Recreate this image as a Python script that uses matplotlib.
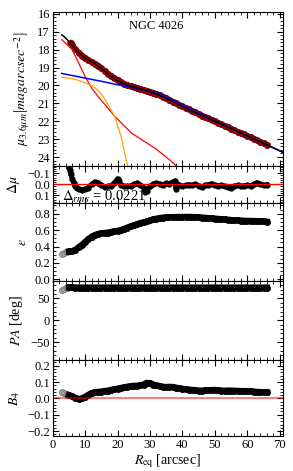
import numpy as np
import matplotlib
matplotlib.use('Agg')
import matplotlib.pyplot as plt
from matplotlib.ticker import MultipleLocator

plt.rcParams['font.family'] = 'Liberation Serif'
plt.rcParams['mathtext.fontset'] = 'stix'
plt.rcParams['font.size'] = 9

# surface brightness profile (data)
r_data = [5.5, 6, 7, 8, 9, 10, 11, 12, 13, 14, 15, 16, 17, 18, 19, 20, 21, 22, 23, 24,
          25, 26, 27, 28, 29, 30, 31, 32, 33, 34, 35, 36, 37, 38, 39, 40, 41, 42, 43, 44,
          45, 46, 47, 48, 49, 50, 51, 52, 53, 54, 55, 56, 57, 58, 59, 60, 61, 62, 63, 64,
          65, 66]
mu_data = [17.64, 17.75, 17.97, 18.17, 18.33, 18.47, 18.58, 18.68, 18.78, 18.9, 19.04, 19.19,
           19.34, 19.48, 19.6, 19.71, 19.82, 19.91, 19.98, 20.03, 20.08, 20.13, 20.18, 20.24,
           20.31, 20.35, 20.41, 20.48, 20.55, 20.63, 20.72, 20.8, 20.9, 20.99, 21.08, 21.17,
           21.26, 21.34, 21.43, 21.51, 21.6, 21.68, 21.76, 21.84, 21.92, 22.01, 22.09, 22.17,
           22.25, 22.33, 22.41, 22.5, 22.58, 22.66, 22.74, 22.82, 22.9, 22.98, 23.07, 23.15,
           23.23, 23.31]

# model components
r_tot = [2.8, 3.5, 4.5, 5.5, 7, 9, 11, 13, 15, 17, 19, 21, 23, 25, 27, 29, 31, 33, 35, 38,
         41, 45, 50, 55, 60, 65, 71.3]
mu_tot = [17.18, 17.27, 17.45, 17.66, 17.98, 18.33, 18.58, 18.78, 19.05, 19.36, 19.63, 19.84,
          19.99, 20.09, 20.19, 20.3, 20.41, 20.55, 20.72, 20.99, 21.26, 21.6, 22.01, 22.41,
          22.82, 23.23, 23.76]
r_disk = [2.8, 5, 10, 15, 20, 25, 30, 33, 36, 40, 45, 50, 55, 60, 65, 71.3]
mu_disk = [19.33, 19.41, 19.59, 19.77, 19.96, 20.14, 20.32, 20.48, 20.74, 21.1, 21.55, 21.98,
           22.4, 22.82, 23.23, 23.76]
r_bulge = [2.8, 4, 6, 8, 10, 12, 14, 16, 19, 22, 24.4, 28, 31.5, 35, 38.5]
mu_bulge = [17.45, 17.65, 18.0, 18.75, 19.5, 20.15, 20.62, 21.05, 21.7, 22.25, 22.67, 23.1,
            23.5, 24.0, 24.55]
r_bar = [2.8, 6, 8, 10, 11.5, 13, 14.1, 15.5, 17, 19.1, 21, 22.9, 23.3]
mu_bar = [19.55, 19.62, 19.72, 19.85, 19.97, 20.12, 20.3, 20.6, 21.05, 21.73, 22.8, 24.34, 24.6]

# residuals
r_res = [4.8, 5.2, 5.6, 6, 6.5, 7, 7.5, 8, 9, 10, 11, 12, 13, 14, 15, 16, 17, 18, 19, 20,
         20.5, 21, 22, 23, 24, 25, 26, 27, 28, 28.5, 29, 30, 31, 32, 33, 34, 35, 36, 37, 37.8,
         38, 38.3, 39, 40, 41, 42, 43, 44, 45, 46, 47, 48, 49, 50, 51, 52, 53, 54, 55, 56,
         57, 58, 59, 60, 61, 62, 63, 64, 65, 66]
d_res = [-0.17, -0.13, -0.09, -0.05, -0.01, 0.02, 0.035, 0.045, 0.05, 0.045, 0.03, 0.0,
         -0.02, -0.015, 0.01, 0.025, 0.02, 0.015, -0.01, -0.05, -0.03, 0.01, 0.02, 0.02, 0.015,
         0.0, -0.01, 0.01, 0.03, 0.07, 0.06, 0.02, 0.0, -0.01, 0.0, 0.01, -0.01, -0.005, -0.02,
         -0.03, 0.04, 0.0, 0.01, 0.02, 0.01, 0.005, 0.01, 0.0, 0.015, 0.025, 0.01, 0.005,
         -0.005, 0.01, 0.015, 0.01, 0.02, 0.025, 0.03, 0.02, 0.01, 0.02, 0.015, 0.01, 0.015,
         0.0, -0.015, 0.0, 0.01, 0.005]

# isophote parameters
r_iso = list(range(5, 67))
eps = [0.34, 0.345, 0.36, 0.39, 0.42, 0.455, 0.49, 0.52, 0.54, 0.553, 0.56, 0.565, 0.57,
       0.578, 0.585, 0.592, 0.6, 0.615, 0.63, 0.645, 0.66, 0.672, 0.685, 0.695, 0.705, 0.718,
       0.73, 0.74, 0.747, 0.752, 0.755, 0.757, 0.758, 0.759, 0.76, 0.76, 0.761, 0.761, 0.76,
       0.758, 0.755, 0.752, 0.75, 0.747, 0.743, 0.74, 0.737, 0.733, 0.73, 0.727, 0.723, 0.72,
       0.718, 0.716, 0.714, 0.713, 0.712, 0.711, 0.71, 0.708, 0.705, 0.702]
pa = [75.5, 75.5, 75, 75, 75, 75, 75, 75, 75, 75, 75, 75, 75, 75, 75, 75, 75, 75, 75, 75,
      75, 75, 75, 75, 75, 75, 75, 75, 75, 75, 75, 75, 75, 75, 75, 75, 75, 75, 75, 75,
      75, 75, 75, 75, 75, 75, 75, 75, 75, 75, 75, 75, 75, 75, 75, 75, 75, 75, 75, 75, 75, 75]
b4 = [0.02, 0.012, 0.003, -0.004, 0.0, 0.01, 0.022, 0.033, 0.038, 0.04, 0.042, 0.045, 0.048,
      0.052, 0.056, 0.06, 0.064, 0.068, 0.072, 0.075, 0.077, 0.078, 0.08, 0.085, 0.095, 0.093,
      0.085, 0.08, 0.075, 0.071, 0.07, 0.071, 0.07, 0.066, 0.062, 0.059, 0.056, 0.054, 0.052,
      0.05, 0.048, 0.048, 0.049, 0.05, 0.051, 0.052, 0.05, 0.048, 0.047, 0.048, 0.048, 0.047,
      0.046, 0.045, 0.045, 0.044, 0.043, 0.042, 0.04, 0.039, 0.038, 0.037]
# excluded inner points
r_ex = [3.0, 3.5, 4.0, 4.5]
eps_ex = [0.31, 0.32, 0.33, 0.335]
pa_ex = [70, 72, 74, 75]
b4_ex = [0.038, 0.033, 0.027, 0.022]

W, H = 293., 471.
fig = plt.figure(figsize=(W / 100, H / 100), dpi=100)
left, right = 52.7, 283.
edges = [12, 166, 203, 281, 360, 436]
axs = []
for i in range(5):
    ax = fig.add_axes([left / W, 1 - edges[i + 1] / H, (right - left) / W,
                       (edges[i + 1] - edges[i]) / H])
    ax.set_xlim(0, 71)
    ax.xaxis.set_major_locator(MultipleLocator(10))
    ax.xaxis.set_minor_locator(MultipleLocator(2))
    ax.tick_params(which='both', direction='in', top=True, right=True, labelsize=9, pad=2)
    ax.tick_params(which='major', length=4)
    ax.tick_params(which='minor', length=2)
    if i < 4:
        ax.tick_params(labelbottom=False)
    axs.append(ax)

ax = axs[0]
ax.plot(r_data, mu_data, '-o', color='#b30000', mec='#7a0000', ms=4, lw=4, zorder=2)
ax.plot(r_tot, mu_tot, color='black', lw=1.1, zorder=3)
ax.plot(r_disk, mu_disk, color='blue', lw=1.1, zorder=2.5)
ax.plot(r_bulge, mu_bulge, color='red', lw=0.9)
ax.plot(r_bar, mu_bar, color='orange', lw=0.9)
ax.set_ylim(24.5, 15.9)
ax.yaxis.set_major_locator(MultipleLocator(1))
ax.yaxis.set_minor_locator(MultipleLocator(0.2))
ax.set_ylabel(r'$\mu_{3.6\mu m}\left[magarcsec^{-2}\right]$', fontsize=10)
ax.text(0.45, 0.95, 'NGC 4026', transform=ax.transAxes, ha='center', va='top', fontsize=9)

ax = axs[1]
ax.plot(r_res, d_res, '-o', color='black', ms=3.5, lw=3.5, zorder=2)
ax.axhline(0, color='red', lw=1)
ax.set_ylim(0.17, -0.165)
ax.set_yticks([-0.1, 0.0, 0.1])
ax.yaxis.set_minor_locator(MultipleLocator(0.02))
ax.set_ylabel(r'$\Delta\mu$', fontsize=10)
ax.text(3, 0.118, r'$\Delta_{rms}$ = 0.0221', fontsize=10.5, va='center')

ax = axs[2]
ax.plot(r_ex, eps_ex, 'o', mfc='#d0d0d0', mec='gray', ms=4)
ax.plot(r_iso, eps, '-o', color='black', ms=4, lw=4.5)
ax.set_ylim(-0.02, 0.93)
ax.yaxis.set_major_locator(MultipleLocator(0.2))
ax.yaxis.set_minor_locator(MultipleLocator(0.05))
ax.set_ylabel(r'$\epsilon$', fontsize=10)

ax = axs[3]
ax.plot(r_ex, pa_ex, 'o', mfc='#d0d0d0', mec='gray', ms=4)
ax.plot(r_iso, pa, '-o', color='black', ms=4, lw=4.5)
ax.set_ylim(-91, 90)
ax.set_yticks([-50, 0, 50])
ax.yaxis.set_minor_locator(MultipleLocator(10))
ax.set_ylabel(r'$PA$ [deg]', fontsize=10)

ax = axs[4]
ax.plot(r_ex, b4_ex, 'o', mfc='#d0d0d0', mec='gray', ms=4)
ax.plot(r_iso, b4, '-o', color='black', ms=4, lw=4.5)
ax.axhline(0, color='red', lw=1.2, alpha=0.6)
ax.set_ylim(-0.23, 0.235)
ax.yaxis.set_major_locator(MultipleLocator(0.1))
ax.yaxis.set_minor_locator(MultipleLocator(0.02))
ax.set_ylabel(r'$B_4$', fontsize=10)
ax.set_xlabel(r'$R_{\rm eq}$ [arcsec]', fontsize=10, labelpad=1)

fig.align_ylabels(axs)
fig.savefig('out.png', dpi=100)
